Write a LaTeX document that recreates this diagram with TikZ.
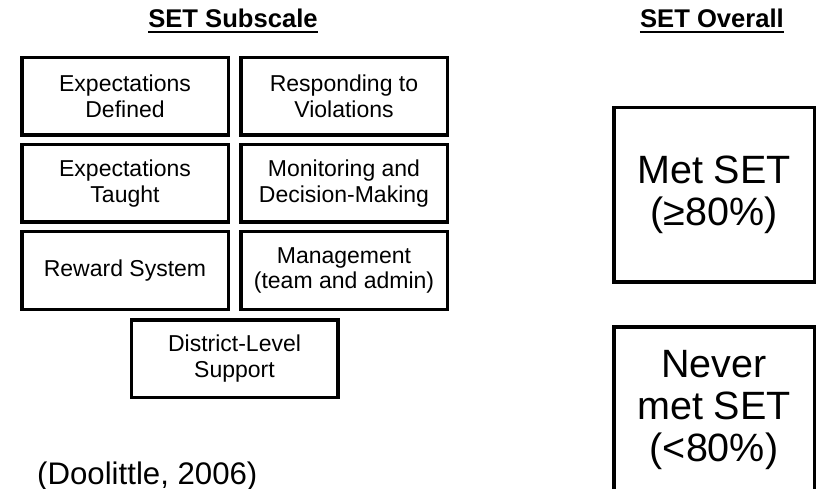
\documentclass[tikz,border=0pt]{standalone}
\usepackage{fontspec}
\setmainfont{Liberation Sans}
\usetikzlibrary{positioning}

\begin{document}
\begin{tikzpicture}[x=1pt, y=-1pt, node distance=6pt]
\tikzstyle{box} = [rectangle, draw, line width=3.5pt, minimum width=206.5pt, minimum height=77.5pt, align=center, font=\fontsize{23}{25.5}\selectfont]
\tikzstyle{bigbox} = [rectangle, draw, line width=3.5pt, minimum width=200.5pt, minimum height=174.5pt, align=center, font=\fontsize{39.5}{42}\selectfont]
\tikzstyle{heading} = [inner sep=0pt, anchor=base, font=\fontsize{25.6}{30}\selectfont\bfseries]
\tikzstyle{uline} = [line width=2pt]

\useasboundingbox (0,0) rectangle (817,489);

% headings
\node[heading] (subscale) at (233,28) {SET Subscale};
\node[heading] (overall) at (712,28) {SET Overall};
\draw[uline] ([yshift=-4pt]subscale.base west) -- ([yshift=-4pt]subscale.base east);
\draw[uline] ([yshift=-4pt]overall.base west) -- ([yshift=-4pt]overall.base east);

% subscales
\node[box] (defined) at (125,96.5) {Expectations\\Defined};
\node[box, right=9pt of defined] (violations) {Responding to\\Violations};
\node[box, below=of defined] (taught) {Expectations\\Taught};
\node[box, below=of violations] (monitoring) {Monitoring and\\Decision-Making};
\node[box, below=of taught] (reward) {Reward System};
\node[box, below=of monitoring] (management) {Management\\(team and admin)};
\node[box] (district) at (234.5,358.5) {District-Level\\Support};

% overall
\node[bigbox] (met) at (714,195) {Met SET\\(≥80\%)};
\node[bigbox, below=41pt of met] (never) {};
\node[align=center, anchor=north, inner sep=0pt, font=\fontsize{39.5}{42}\selectfont] (nevertext) at ([yshift=-25pt]never.north) {Never\\met SET\\(<80\%)};

\node[anchor=base west, inner sep=0pt, font=\fontsize{31.2}{36}\selectfont] (cite) at (37,484) {(Doolittle, 2006)};
\end{tikzpicture}
\end{document}
